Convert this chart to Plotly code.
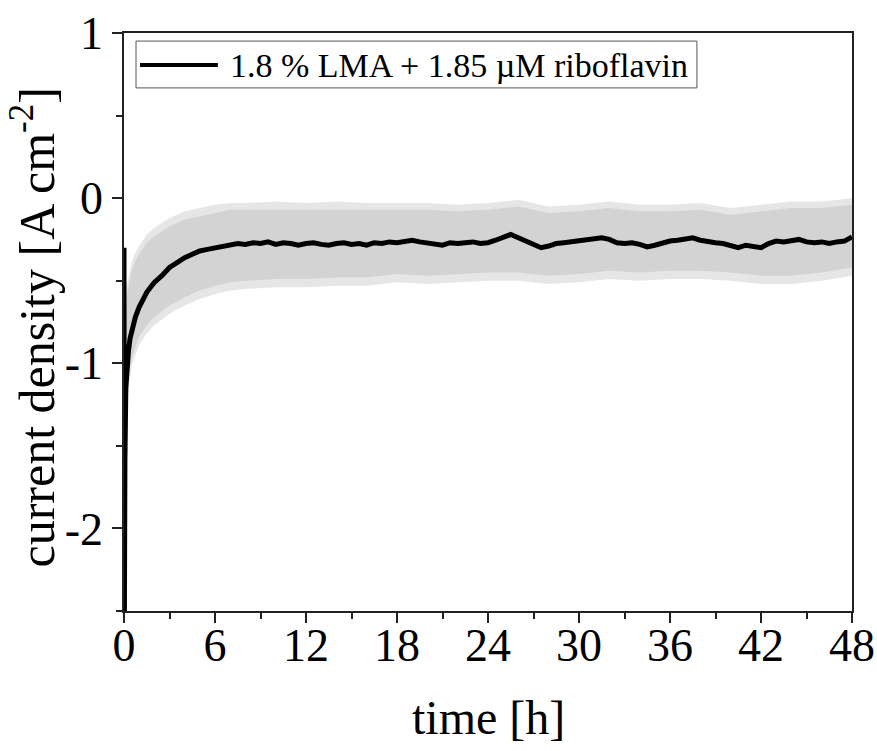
import plotly.graph_objects as go

# ---------------- data ----------------
time_h = [0, 0.02, 0.06, 0.12, 0.2, 0.3, 0.4, 0.55, 0.75, 1.0, 1.25, 1.5, 1.75,
          2.0, 2.5, 3.0, 3.5, 4.0, 4.5, 5.0, 5.5, 6.0, 6.5, 7.0, 7.5,
          8.0, 8.5, 9.0, 9.5, 10.0, 10.5, 11.0, 11.5, 12.0, 12.5, 13.0, 13.5,
          14.0, 14.5, 15.0, 15.5, 16.0, 16.5, 17.0, 17.5, 18.0, 18.5, 19.0, 19.5,
          20.0, 20.5, 21.0, 21.5, 22.0, 22.5, 23.0, 23.5, 24.0, 24.5, 25.0, 25.5,
          26.0, 26.5, 27.0, 27.5, 28.0, 28.5, 29.0, 29.5, 30.0, 30.5, 31.0, 31.5,
          32.0, 32.5, 33.0, 33.5, 34.0, 34.5, 35.0, 35.5, 36.0, 36.5, 37.0, 37.5,
          38.0, 38.5, 39.0, 39.5, 40.0, 40.5, 41.0, 41.5, 42.0, 42.5, 43.0, 43.5,
          44.0, 44.5, 45.0, 45.5, 46.0, 46.5, 47.0, 47.5, 48.0]

mean_current = [-0.30, -2.70, -1.60, -1.15, -1.00, -0.92, -0.85, -0.78, -0.72, -0.66, -0.61, -0.57, -0.54,
                -0.51, -0.47, -0.42, -0.39, -0.36, -0.34, -0.32, -0.31, -0.30, -0.29, -0.285, -0.275,
                -0.280, -0.270, -0.275, -0.265, -0.280, -0.270, -0.275, -0.285, -0.275, -0.270, -0.280, -0.285,
                -0.275, -0.270, -0.280, -0.275, -0.285, -0.270, -0.275, -0.265, -0.270, -0.260, -0.255, -0.265,
                -0.270, -0.280, -0.285, -0.270, -0.275, -0.270, -0.265, -0.275, -0.270, -0.255, -0.235, -0.220,
                -0.240, -0.260, -0.280, -0.300, -0.290, -0.275, -0.270, -0.265, -0.260, -0.255, -0.250, -0.240,
                -0.250, -0.270, -0.275, -0.270, -0.280, -0.295, -0.285, -0.270, -0.260, -0.255, -0.250, -0.240,
                -0.255, -0.265, -0.270, -0.275, -0.285, -0.300, -0.285, -0.290, -0.300, -0.275, -0.260, -0.265,
                -0.255, -0.250, -0.265, -0.270, -0.265, -0.275, -0.265, -0.260, -0.235]

band_time = [0.03, 0.1, 0.2, 0.35, 0.5, 0.75, 1.0, 1.5, 2.0, 3.0, 4.0, 5.0, 6.0, 7.0, 8.0,
             10, 12, 14, 16, 18, 20, 22, 24, 26, 28, 30, 32, 34, 36, 38, 40, 42, 44, 46, 48]
band_upper = [-0.80, -0.65, -0.58, -0.50, -0.44, -0.38, -0.34, -0.27, -0.23, -0.17, -0.13, -0.11, -0.09, -0.07, -0.07,
              -0.07, -0.07, -0.07, -0.07, -0.07, -0.07, -0.08, -0.07, -0.05, -0.09, -0.08, -0.06, -0.08, -0.08,
              -0.07, -0.10, -0.08, -0.06, -0.06, -0.04]
band_lower = [-1.50, -1.35, -1.20, -1.05, -0.97, -0.90, -0.84, -0.77, -0.72, -0.65, -0.60, -0.56, -0.53, -0.51, -0.50,
              -0.49, -0.49, -0.48, -0.48, -0.46, -0.47, -0.46, -0.45, -0.45, -0.47, -0.46, -0.44, -0.45, -0.44,
              -0.44, -0.45, -0.47, -0.47, -0.45, -0.42]
# fuzzy outer edge of the spread
halo_upper = [-0.74, -0.60, -0.53, -0.45, -0.39, -0.33, -0.29, -0.22, -0.18, -0.12, -0.08, -0.06, -0.04, -0.03, -0.03,
              -0.02, -0.03, -0.02, -0.03, -0.03, -0.03, -0.04, -0.03, -0.01, -0.05, -0.04, -0.02, -0.04, -0.04,
              -0.03, -0.06, -0.04, -0.02, -0.02, 0.00]
halo_lower = [-1.56, -1.41, -1.26, -1.11, -1.02, -0.95, -0.89, -0.82, -0.77, -0.70, -0.65, -0.61, -0.58, -0.56, -0.55,
              -0.54, -0.54, -0.53, -0.53, -0.51, -0.52, -0.51, -0.50, -0.50, -0.52, -0.51, -0.49, -0.50, -0.49,
              -0.49, -0.50, -0.52, -0.52, -0.50, -0.47]

x_tick_vals = [0, 6, 12, 18, 24, 30, 36, 42, 48]
x_tick_text = ["0", "6", "12", "18", "24", "30", "36", "42", "48"]
y_tick_vals = [-2, -1, 0, 1]
y_tick_text = ["-2", "-1", "0", "1"]
series_name = "1.8 % LMA + 1.85 µM riboflavin"

FONT = "Liberation Serif"
AX = "#222222"

fig = go.Figure()
fig.add_trace(go.Scatter(
    x=band_time + band_time[::-1], y=halo_upper + halo_lower[::-1],
    fill="toself", fillcolor="#e6e6e6", line=dict(width=0), mode="lines",
    hoverinfo="skip", showlegend=False))
fig.add_trace(go.Scatter(
    x=band_time + band_time[::-1], y=band_upper + band_lower[::-1],
    fill="toself", fillcolor="#d3d3d3", line=dict(width=0), mode="lines",
    hoverinfo="skip", showlegend=False))
fig.add_trace(go.Scatter(
    x=time_h, y=mean_current, mode="lines", name=series_name,
    line=dict(color="black", width=5), showlegend=False))

axis_common = dict(
    showline=True, linecolor=AX, linewidth=1.5, mirror=True,
    ticks="outside", ticklen=10, tickwidth=1.5, tickcolor=AX,
    showgrid=False, zeroline=False, automargin=False,
    tickfont=dict(family=FONT, size=46, color="black"),
)

fig.update_layout(
    width=877, height=751,
    margin=dict(l=124, r=25, t=33, b=140),
    plot_bgcolor="white", paper_bgcolor="white",
    xaxis=dict(range=[0, 48], tickmode="array", tickvals=x_tick_vals, ticktext=x_tick_text,
               ticklabelstandoff=-17,
               minor=dict(tickmode="linear", tick0=0, dtick=3, ticklen=6, tickwidth=1.5,
                          tickcolor=AX, ticks="outside"),
               **axis_common),
    yaxis=dict(range=[-2.5, 1], tickmode="array", tickvals=y_tick_vals, ticktext=y_tick_text,
               minor=dict(tickmode="linear", tick0=0, dtick=0.5, ticklen=6, tickwidth=1.5,
                          tickcolor=AX, ticks="outside"),
               **axis_common),
    showlegend=False,
)

# axis titles
fig.add_annotation(text="time [h]", xref="paper", yref="paper", x=0.5, y=-0.185,
                   xanchor="center", yanchor="middle", showarrow=False,
                   font=dict(family=FONT, size=48, color="black"))
fig.add_annotation(text="current density [A cm<sup>-2</sup>]", xref="paper", yref="paper",
                   x=-0.124, y=0.49, xanchor="center", yanchor="middle", textangle=-90,
                   showarrow=False, font=dict(family=FONT, size=50, color="black"))

# legend box (drawn to match the reference's long legend line)
fig.add_shape(type="rect", xref="paper", yref="paper", x0=0.0165, x1=0.787, y0=0.905, y1=0.986,
              line=dict(color="#555555", width=1), fillcolor="white", layer="above")
fig.add_shape(type="line", xref="paper", yref="paper", x0=0.022, x1=0.129, y0=0.9446, y1=0.9446,
              line=dict(color="black", width=4), layer="above")
fig.add_annotation(text=series_name, xref="paper", yref="paper", x=0.1429, y=0.9446,
                   xanchor="left", yanchor="middle", showarrow=False,
                   font=dict(family=FONT, size=34, color="black"))

fig.write_html("out.html")
